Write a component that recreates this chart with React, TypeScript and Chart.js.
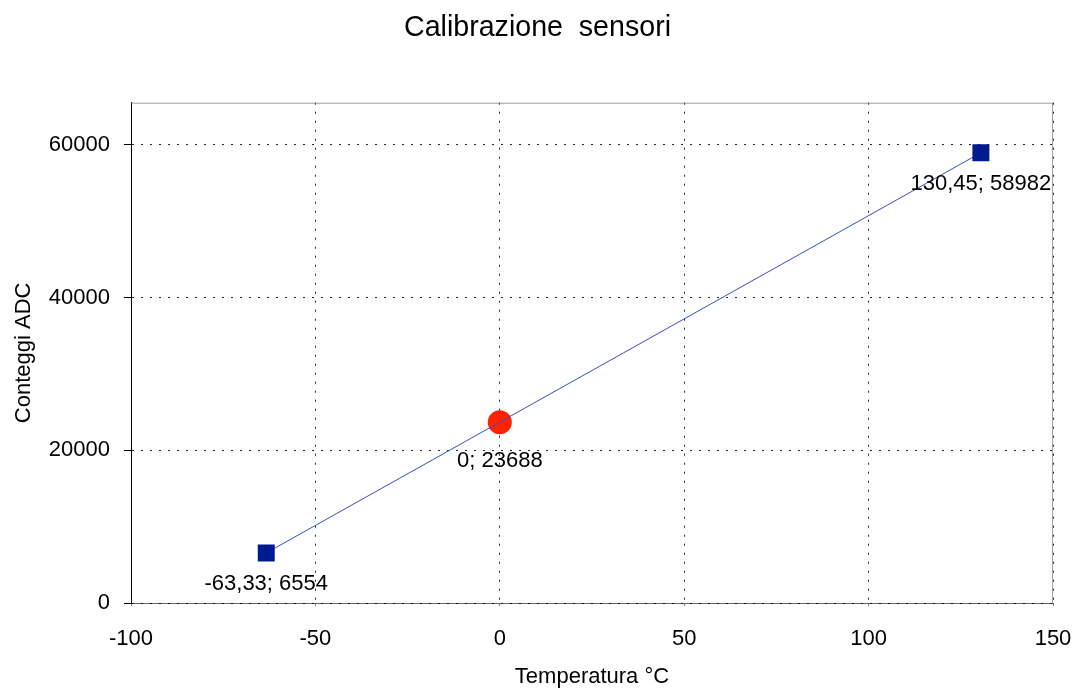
import React, { useEffect, useRef } from "react";
import { Chart, registerables } from "chart.js";

Chart.register(...registerables);

const calibTemps: number[] = [-63.33, 130.45];
const calibCounts: number[] = [6554, 58982];
const refTemps: number[] = [0];
const refCounts: number[] = [23688];
const xTicks: number[] = [-100, -50, 0, 50, 100, 150];
const yTicks: number[] = [0, 20000, 40000, 60000];

const FONT = "'Liberation Sans', Arial, sans-serif";

const fmt = (x: number, y: number) => `${String(x).replace(".", ",")}; ${y}`;

const labelPlugin = {
  id: "pointLabels",
  afterDatasetsDraw(chart: any) {
    const ctx = chart.ctx;
    ctx.save();
    ctx.font = `22px ${FONT}`;
    ctx.fillStyle = "#000";
    ctx.textAlign = "center";
    ctx.textBaseline = "middle";
    chart.data.datasets.forEach((ds: any, di: number) => {
      const meta = chart.getDatasetMeta(di);
      const off = di === 0 ? 31 : 39;
      meta.data.forEach((el: any, i: number) => {
        const p = ds.data[i];
        ctx.fillText(fmt(p.x, p.y), el.x, el.y + off);
      });
    });
    ctx.restore();
  },
};

const framePlugin = {
  id: "frame",
  beforeDatasetsDraw(chart: any) {
    const { ctx, chartArea } = chart;
    ctx.save();
    ctx.setLineDash([]);
    ctx.strokeStyle = "rgba(120,120,120,0.7)";
    ctx.lineWidth = 1;
    ctx.beginPath();
    ctx.moveTo(chartArea.left, chartArea.top + 0.5);
    ctx.lineTo(chartArea.right, chartArea.top + 0.5);
    ctx.moveTo(chartArea.right - 0.5, chartArea.top);
    ctx.lineTo(chartArea.right - 0.5, chartArea.bottom);
    ctx.stroke();
    ctx.restore();
  },
};

export default function App() {
  const ref = useRef<HTMLCanvasElement | null>(null);
  useEffect(() => {
    if (!ref.current) return;
    const chart = new Chart(ref.current, {
      type: "scatter",
      data: {
        datasets: [
          {
            data: calibTemps.map((x, i) => ({ x, y: calibCounts[i] })),
            showLine: true,
            borderColor: "#3a4ec4",
            borderWidth: 1,
            pointStyle: "rect",
            pointRadius: 12,
            pointBackgroundColor: "#001a8f",
            pointBorderColor: "#001a8f",
            pointBorderWidth: 0,
          },
          {
            data: refTemps.map((x, i) => ({ x, y: refCounts[i] })),
            pointStyle: "circle",
            pointRadius: 12,
            pointBackgroundColor: "#ff2200",
            pointBorderColor: "#ff2200",
            pointBorderWidth: 0,
          },
        ],
      },
      options: {
        animation: false,
        responsive: true,
        maintainAspectRatio: false,
        layout: { padding: 0 },
        plugins: {
          legend: { display: false },
          tooltip: { enabled: false },
          title: {
            display: true,
            text: "Calibrazione  sensori",
            color: "#000",
            font: { family: FONT, size: 28.6, weight: "normal", lineHeight: 1.2 },
            padding: { top: 11, bottom: 57.4 },
          },
        },
        scales: {
          x: {
            type: "linear",
            min: -100,
            max: 150,
            afterBuildTicks: (s: any) => {
              s.ticks = xTicks.map((v) => ({ value: v }));
            },
            afterFit: (s: any) => {
              s.height = 88;
              s.paddingLeft = 0;
              s.paddingRight = 0;
            },
            ticks: {
              color: "#000",
              font: { family: FONT, size: 22 },
              padding: 18,
              maxRotation: 0,
            },
            grid: {
              color: "rgba(0,0,0,0.85)",
              tickLength: 5,
              tickColor: "rgba(0,0,0,0.5)",
              tickBorderDash: [2, 2],
            },
            border: { display: true, color: "rgba(0,0,0,0.6)", width: 1, dash: [2, 7] },
            title: {
              display: true,
              text: "Temperatura °C",
              color: "#000",
              font: { family: FONT, size: 22, lineHeight: 1.2 },
              padding: { top: 0, bottom: 1 },
            },
          },
          y: {
            type: "linear",
            min: 0,
            max: 65535,
            afterBuildTicks: (s: any) => {
              s.ticks = yTicks.map((v) => ({ value: v }));
            },
            afterFit: (s: any) => {
              s.width = 131;
            },
            ticks: {
              color: "#000",
              font: { family: FONT, size: 22 },
              padding: 14,
              callback: (v: any) => String(v),
            },
            grid: {
              color: "rgba(0,0,0,0.85)",
              tickLength: 7,
              tickColor: "#000",
              tickBorderDash: [],
            },
            border: { display: true, color: "#000", width: 1, dash: [2, 7] },
            title: {
              display: true,
              text: "Conteggi ADC",
              color: "#000",
              font: { family: FONT, size: 22, lineHeight: 1.2 },
              padding: { top: 11, bottom: 0 },
            },
          },
          yRight: {
            type: "linear",
            position: "right",
            min: 0,
            max: 65535,
            afterFit: (s: any) => {
              s.width = 22;
            },
            ticks: { display: false },
            grid: { display: false, drawTicks: false },
            border: { display: false },
          },
        },
      },
      plugins: [framePlugin, labelPlugin],
    } as any);
    return () => chart.destroy();
  }, []);
  return (
    <div style={{ position: "fixed", left: 0, top: 0, width: 1075, height: 691, background: "#fff" }}>
      <canvas ref={ref} />
    </div>
  );
}
